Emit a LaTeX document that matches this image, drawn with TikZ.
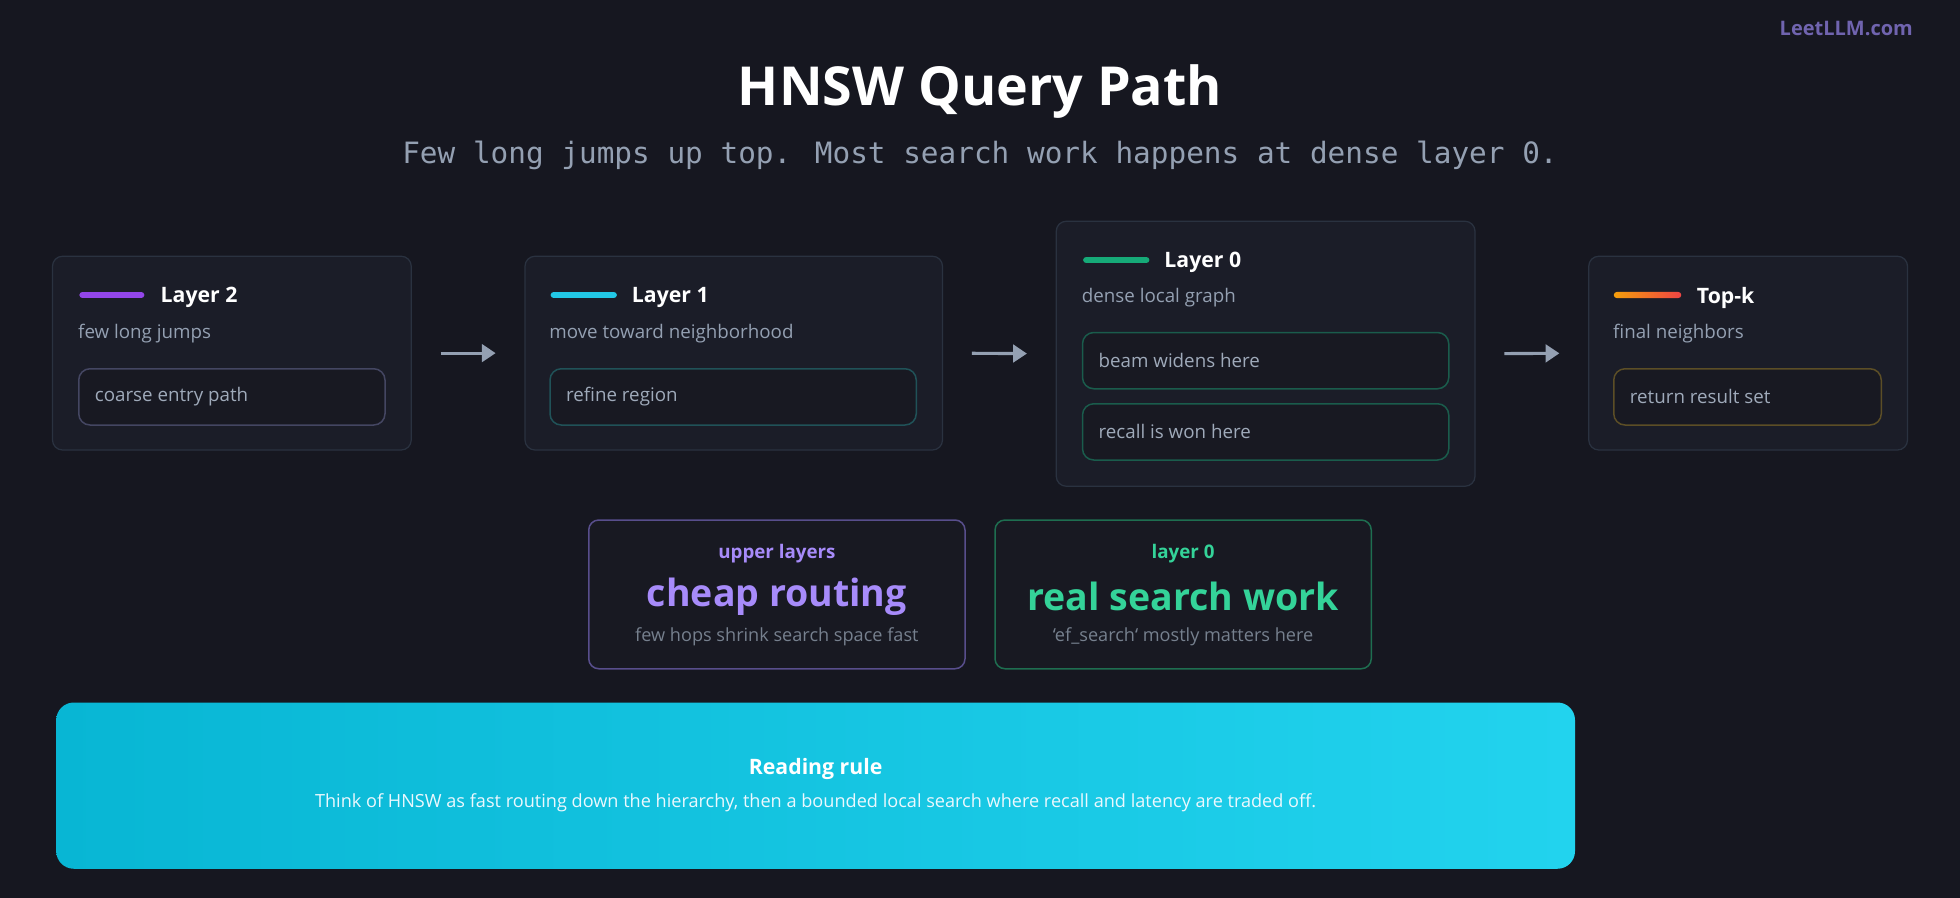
\documentclass[tikz,border=0pt]{standalone}
\usepackage{fontspec}
\setmainfont{Open Sans}
\newfontfamily\monofont{DejaVu Sans Mono}
\usetikzlibrary{arrows.meta}
\definecolor{BgCol}{RGB}{22,23,32}
\definecolor{CardFill}{RGB}{27,29,40}
\definecolor{CardLine}{RGB}{42,50,64}
\definecolor{BoxFill}{RGB}{24,25,34}
\definecolor{SubCol}{RGB}{148,160,178}
\definecolor{PurpleCol}{RGB}{167,139,250}
\definecolor{GreenCol}{RGB}{52,211,153}
\definecolor{LogoCol}{RGB}{112,100,175}
\tikzset{
  Card/.style={draw=CardLine,fill=CardFill,rounded corners=8pt,line width=1pt,inner sep=0pt},
  InBox/.style={fill=BoxFill,rounded corners=9pt,line width=1.2pt,inner sep=0pt,
    minimum height=45pt},
  BoxText/.style={anchor=west,text=SubCol!90!white,font=\fontsize{15}{18}\selectfont},
  Head/.style={anchor=west,text=white,font=\bfseries\fontsize{17}{20}\selectfont},
  Sub/.style={anchor=west,text=SubCol,font=\fontsize{15}{18}\selectfont},
  Bar/.style={line width=5pt,line cap=round},
  Step/.style={draw=SubCol,line width=2.5pt,-{Triangle[length=11pt,width=14pt]},
    shorten <=23pt,shorten >=23pt},
  Panel/.style={fill=BoxFill,rounded corners=8pt,line width=1.2pt,inner sep=0pt,
    minimum width=301pt,minimum height=119pt},
}
\begin{document}
\begin{tikzpicture}[x=1pt,y=-1pt]
  \fill[BgCol](0,0)rectangle(1568,718);
  \useasboundingbox(0,0)rectangle(1568,718);
  % heading
  \node[text=LogoCol,font=\bfseries\fontsize{16}{18}\selectfont](logo)at(1477,23){LeetLLM.com};
  \node[text=white,font=\bfseries\fontsize{43}{48}\selectfont](title)at(784,73){HNSW Query Path};
  \node[text=SubCol,font=\monofont\fontsize{23.5}{26}\selectfont](subtitle)at(784,124)
    {Few long jumps up top. Most search work happens at dense layer 0.};
  % cards
  \node[Card,minimum width=287pt,minimum height=155pt](c2)at(185.5,282.5){};
  \node[Card,minimum width=334pt,minimum height=155pt](c1)at(587,282.5){};
  \node[Card,minimum width=335pt,minimum height=212pt](c0)at(1012.5,283){};
  \node[Card,minimum width=255pt,minimum height=155pt](ck)at(1398.5,282.5){};
  \draw[Step](c2.east)--(c1.west);
  \draw[Step](c1.east)--(c0.west);
  \draw[Step](c0.east)--(ck.west);
  % layer 2
  \draw[Bar,draw={rgb,255:red,147;green,70;blue,234}](66,236)--(113,236);
  \node[Head](h2)at(125,238){Layer 2};
  \node[Sub](s2)at(59,267){few long jumps};
  \node[InBox,draw={rgb,255:red,68;green,70;blue,98},minimum width=245pt](b2)at(185.5,317.5){};
  \node[BoxText](t2)at(b2.west){\hspace{10pt}coarse entry path};
  % layer 1
  \draw[Bar,draw={rgb,255:red,34;green,200;blue,230}](443,236)--(491,236);
  \node[Head](h1)at(502,238){Layer 1};
  \node[Sub](s1)at(436,267){move toward neighborhood};
  \node[InBox,draw={rgb,255:red,32;green,82;blue,88},minimum width=293pt](b1)at(586.5,317.5){};
  \node[BoxText](t1)at(b1.west){\hspace{10pt}refine region};
  % layer 0
  \draw[Bar,draw={rgb,255:red,22;green,170;blue,120}](869,208)--(917,208);
  \node[Head](h0)at(928,210){Layer 0};
  \node[Sub](s0)at(862,238){dense local graph};
  \node[InBox,draw={rgb,255:red,26;green,92;blue,76},minimum width=293pt](b0a)at(1012.5,288.5){};
  \node[BoxText](t0a)at(b0a.west){\hspace{10pt}beam widens here};
  \node[InBox,draw={rgb,255:red,26;green,92;blue,76},minimum width=293pt](b0b)at(1012.5,345.5){};
  \node[BoxText](t0b)at(b0b.west){\hspace{10pt}recall is won here};
  % top-k
  \shade[left color={rgb,255:red,245;green,158;blue,11},right color={rgb,255:red,239;green,68;blue,68},
    rounded corners=2.5pt](1291,233.5)rectangle(1345,238.5);
  \node[Head](hk)at(1354,238){Top-k};
  \node[Sub](sk)at(1287,267){final neighbors};
  \node[InBox,draw={rgb,255:red,92;green,78;blue,38},minimum width=214pt](bk)at(1398,317.5){};
  \node[BoxText](tk)at(bk.west){\hspace{10pt}return result set};
  % summary panels
  \node[Panel,draw={rgb,255:red,88;green,78;blue,140}](pu)at(621.5,475.5){};
  \node[text=PurpleCol,font=\bfseries\fontsize{15}{18}\selectfont](pu1)at(621.5,443){upper layers};
  \node[text=PurpleCol,font=\bfseries\fontsize{30}{34}\selectfont](pu2)at(621.5,477){cheap routing};
  \node[text=SubCol!80!black,font=\fontsize{14.5}{17}\selectfont](pu3)at(621.5,509){few hops shrink search space fast};
  \node[Panel,draw={rgb,255:red,30;green,110;blue,80}](pl)at(946.5,475.5){};
  \node[text=GreenCol,font=\bfseries\fontsize{15}{18}\selectfont](pl1)at(946.5,443){layer 0};
  \node[text=GreenCol,font=\bfseries\fontsize{30}{34}\selectfont](pl2)at(946.5,477){real search work};
  \node[text=SubCol!80!black,font=\fontsize{14.5}{17}\selectfont](pl3)at(946.5,509){`ef\_search` mostly matters here};
  % reading rule
  \node[rounded corners=14pt,left color={rgb,255:red,8;green,182;blue,212},
    right color={rgb,255:red,34;green,211;blue,238},minimum width=1215pt,minimum height=133pt,
    inner sep=0pt](rule)at(652.5,628.5){};
  \node[text=white,font=\bfseries\fontsize{17}{20}\selectfont](r1)at(652.5,615){Reading rule};
  \node[text=white!92!cyan,font=\fontsize{14.5}{17}\selectfont](r2)at(652.5,642)
    {Think of HNSW as fast routing down the hierarchy, then a bounded local search where recall and latency are traded off.};
\end{tikzpicture}
\end{document}
